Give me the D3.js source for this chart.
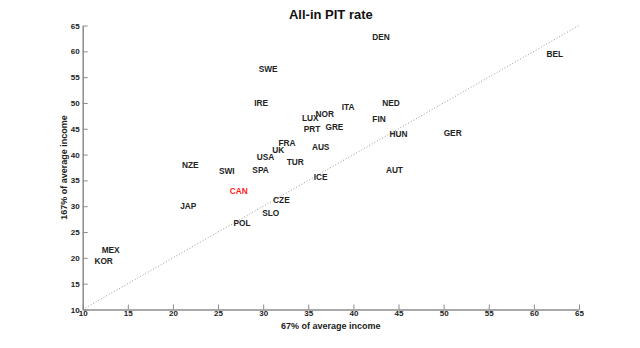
<!DOCTYPE html>
<html><head><meta charset="utf-8">
<script src="https://cdn.jsdelivr.net/npm/d3@7"></script>
<style>body{margin:0;background:#fff}svg{display:block;font-family:"Liberation Sans",Arial,sans-serif}</style>
</head><body><div id="chart"></div>
<script>
const countries = ["DEN","BEL","SWE","IRE","NED","ITA","NOR","LUX","FIN","PRT","GRE","HUN","GER","FRA","AUS","UK","USA","TUR","NZE","SPA","SWI","AUT","ICE","CAN","CZE","JAP","SLO","POL","MEX","KOR"];
const at67  = [42.1,61.4,29.5,29.0,43.2,38.7,35.8,34.3,42.1,34.5,36.9,44.0,50.0,31.7,35.4,31.0,29.3,32.6,21.0,28.8,25.1,43.6,35.6,26.3,31.1,20.8,29.9,26.7,12.1,11.3];
const at167 = [62.8,59.4,56.5,49.9,49.9,49.2,47.8,47.0,46.9,45.0,45.4,44.0,44.2,42.3,41.5,40.9,39.5,38.5,38.0,37.0,36.8,37.0,35.7,33.0,31.1,30.1,28.7,26.7,21.5,19.4];
const highlight = ["CAN"];
const ticks = [10,15,20,25,30,35,40,45,50,55,60,65];
const title = "All-in PIT rate";
const xTitle = "67% of average income";
const yTitle = "167% of average income";

const W = 640, H = 348;
const svg = d3.select("#chart").append("svg").attr("width", W).attr("height", H);
const x = d3.scaleLinear().domain([10,65]).range([82.7,579]);
const y = d3.scaleLinear().domain([10,65]).range([309.5,25.5]);

// 45-degree dotted reference line
svg.append("line")
  .attr("x1", x(10)).attr("y1", y(10)).attr("x2", x(65)).attr("y2", y(65))
  .attr("stroke", "#999").attr("stroke-width", 1).attr("stroke-dasharray", "1,2");

const axisColor = "#8c8c8c";
const gx = svg.append("g").attr("transform", `translate(0,${y(10)})`)
  .call(d3.axisBottom(x).tickValues(ticks).tickSizeInner(-5).tickSizeOuter(0).tickPadding(1));
const gy = svg.append("g").attr("transform", `translate(${x(10)},0)`)
  .call(d3.axisLeft(y).tickValues(ticks).tickSizeInner(-5).tickSizeOuter(0).tickPadding(3));
[gx, gy].forEach(g => {
  g.select(".domain").attr("stroke", axisColor).attr("stroke-width", 1.5);
  g.selectAll(".tick line").attr("stroke", axisColor);
  g.selectAll(".tick text").attr("fill", "#222").attr("font-size", 8).attr("font-weight", "bold")
    .attr("font-family", "Liberation Sans, Arial, sans-serif");
});
gy.selectAll(".tick text").attr("dy", "0.32em");

// labels
svg.append("g").selectAll("text").data(countries).join("text")
  .attr("x", (d,i) => x(at67[i]))
  .attr("y", (d,i) => y(at167[i]))
  .attr("dy", "0.35em")
  .attr("font-size", 8.3).attr("font-weight", "bold")
  .attr("fill", d => highlight.includes(d) ? "#ff1a1a" : "#222")
  .text(d => d);

svg.append("text").attr("x", (x(10)+x(65))/2).attr("y", 14).attr("dy", "0.35em")
  .attr("text-anchor", "middle").attr("font-size", 13).attr("font-weight", "bold").attr("fill", "#111")
  .text(title);
svg.append("text").attr("x", (x(10)+x(65))/2).attr("y", 326).attr("dy", "0.35em")
  .attr("text-anchor", "middle").attr("font-size", 9).attr("font-weight", "bold").attr("fill", "#222")
  .text(xTitle);
svg.append("text").attr("transform", `translate(64,${(y(10)+y(65))/2}) rotate(-90)`).attr("dy", "0.35em")
  .attr("text-anchor", "middle").attr("font-size", 9).attr("font-weight", "bold").attr("fill", "#222")
  .text(yTitle);
</script></body></html>
